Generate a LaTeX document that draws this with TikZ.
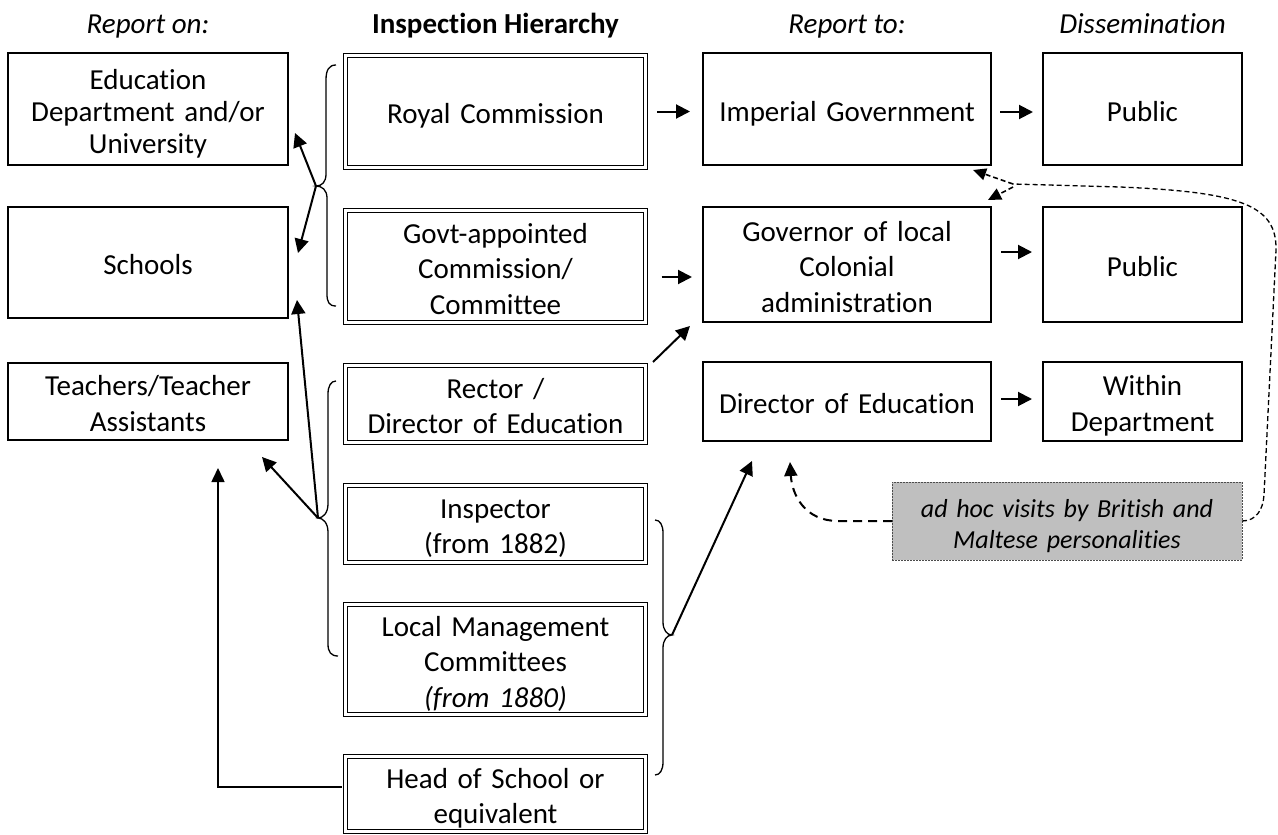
\documentclass[tikz,border=0pt]{standalone}
\usepackage{fontspec}
\setmainfont{Carlito}[Ligatures=CommonOff]
\usetikzlibrary{arrows.meta,calc}
\definecolor{boxgray}{RGB}{191,191,191}
\newcommand{\topstrut}{\rule{0pt}{30pt}}
\newcommand{\botstrut}{\rule[-6pt]{0pt}{6pt}}
\begin{document}
\begin{tikzpicture}[x=1pt,y=-1pt,
  every node/.style={font=\fontsize{29pt}{35.5pt}\selectfont, inner sep=0pt, outer sep=0pt},
  strutted/.style={execute at begin node=\topstrut, execute at end node=\botstrut},
  sbox/.style={draw, line width=2pt, align=center, strutted},
  dbox/.style={draw, line width=1.4pt, double, double distance=2.4pt, align=center, strutted},
  graybox/.style={draw=black!70, fill=boxgray, line width=0.8pt, dash pattern=on 2pt off 1pt, align=center,
    font=\fontsize{26pt}{31pt}\selectfont\itshape, strutted},
  hdr/.style={anchor=base},
  arr/.style={line width=2pt, -{Triangle[length=14pt,width=14pt]}},
  thinarr/.style={line width=1.6pt, -{Triangle[length=14pt,width=13pt]}},
  bracepath/.style={line width=1.3pt},
  dashsmall/.style={line width=1.3pt, dash pattern=on 5pt off 3pt},
  dasharr/.style={line width=1.6pt, dash pattern=on 5pt off 3pt, -{Triangle[length=13pt,width=12pt]}},
  dashbigarr/.style={line width=2pt, dash pattern=on 9pt off 6pt, -{Triangle[length=14pt,width=13pt]}}
]
\useasboundingbox (0,0) rectangle (1278,835);

% headers
\node[hdr, font=\fontsize{29pt}{35.5pt}\selectfont\itshape] (h1) at (148,34) {Report on:};
\node[hdr, font=\fontsize{29pt}{35.5pt}\selectfont\bfseries] (h2) at (495.5,34) {Inspection Hierarchy};
\node[hdr, font=\fontsize{29pt}{35.5pt}\selectfont\itshape] (h3) at (847,34) {Report to:};
\node[hdr, font=\fontsize{29pt}{35.5pt}\selectfont\itshape] (h4) at (1142.5,34) {Dissemination};

% column 1
\node[sbox, text width=280pt, minimum height=112pt, font=\fontsize{29pt}{32pt}\selectfont] (edu) at (148,109) {Education\\Department and/or\\University};
\node[sbox, text width=280pt, minimum height=111pt] (schools) at (148,262.5) {Schools};
\node[sbox, text width=280pt, minimum height=77pt] (teachers) at (148,401.5) {Teachers/Teacher\\Assistants};

% column 2
\node[dbox, text width=300pt, minimum height=112pt] (royal) at (495.5,111.5) {Royal Commission};
\node[dbox, text width=300pt, minimum height=112pt] (govt) at (495.5,266.5) {Govt-appointed\\Commission/\\Committee};
\node[dbox, text width=300pt, minimum height=77pt] (rector) at (495.5,404) {Rector /\\Director of Education};
\node[dbox, text width=300pt, minimum height=77pt] (inspector) at (495.5,524) {Inspector\\(from 1882)};
\node[dbox, text width=300pt, minimum height=110pt] (local) at (495.5,659.5) {Local Management\\Committees\\\textit{(from 1880)}};
\node[dbox, text width=300pt, minimum height=75pt] (head) at (495.5,794) {Head of School or\\equivalent};

% column 3
\node[sbox, text width=288pt, minimum height=112pt] (imperial) at (847,109) {Imperial Government};
\node[sbox, text width=288pt, minimum height=115pt] (governor) at (847,264.5) {Governor of local\\Colonial\\administration};
\node[sbox, text width=288pt, minimum height=79pt] (director) at (847,401.5) {Director of Education};

% column 4
\node[sbox, text width=199pt, minimum height=112pt] (public1) at (1142.5,109) {Public};
\node[sbox, text width=199pt, minimum height=115pt] (public2) at (1142.5,264.5) {Public};
\node[sbox, text width=199pt, minimum height=79pt] (within) at (1142.5,401.5) {Within\\Department};

% gray box
\node[graybox, text width=350pt, minimum height=78pt] (adhoc) at (1067,521) {ad hoc visits by British and\\Maltese personalities};

% braces
\coordinate (b1) at (316,186);
\coordinate (b2) at (318,518);
\coordinate (b3) at (672,635);
\draw[bracepath] (336,65) .. controls (329,65) and (326,70) .. (326,80) -- (326,174)
  .. controls (326,182) and (322,186) .. (b1) .. controls (322,186) and (327,190) .. (327,198)
  -- (327,294) .. controls (327,302) and (329,306) .. (336,306);
\draw[bracepath] (336,381) .. controls (331,381) and (328,386) .. (328,394) -- (328,504)
  .. controls (328,513) and (323,518) .. (b2) .. controls (323,518) and (328,523) .. (328,532)
  -- (328,644) .. controls (328,652) and (331,656) .. (338,656);
\draw[bracepath] (655,520) .. controls (660,520) and (663,525) .. (663,533) -- (663,622)
  .. controls (663,630) and (667,635) .. (b3) .. controls (667,635) and (663,640) .. (663,648)
  -- (663,762) .. controls (663,770) and (660,775) .. (655,775);

% brace arrows
\draw[arr] (b1) -- ($(edu.east)+(7,24)$);
\draw[arr] (b1) -- ($(schools.east)+(10,-9.5)$);
\draw[arr] (b2) -- ($(schools.east)+(9,37.5)$);
\draw[arr] (b2) -- ($(teachers.south east)+(-26,17)$);
\draw[arr] (b3) -- ($(director.south west)+(49,20)$);
\draw[thinarr] ($(head.west)+(-4,-7)$) -| ($(teachers.south)+(70,28)$);

% horizontal arrows
\draw[arr, shorten <=11.5pt, shorten >=13pt] (royal.east) -- (royal.east -| imperial.west);
\draw[arr, shorten <=9pt, shorten >=10pt] ($(imperial.east)+(0,3)$) -- ($(imperial.east -| public1.west)+(0,3)$);
\draw[arr, shorten <=16pt, shorten >=11pt] ($(govt.east)+(0,10.5)$) -- ($(govt.east -| governor.west)+(0,10.5)$);
\draw[arr, shorten <=10pt, shorten >=11pt] ($(governor.east)+(0,-12.5)$) -- ($(governor.east -| public2.west)+(0,-12.5)$);
\draw[arr, shorten <=10pt, shorten >=11pt] ($(director.east)+(0,-2.5)$) -- ($(director.east -| within.west)+(0,-2.5)$);
\draw[arr] ($(rector.north east)+(7.5,-3.5)$) -- ($(governor.south west)+(-13,4)$);

% dashed connectors
\draw[dashbigarr] (adhoc.west) -- (838,521) .. controls (805,521) and (792,495) .. ($(director.south west)+(87,21)$);
\coordinate (j) at (1013,184);
\draw[dashsmall] (adhoc.east) .. controls (1256,521) and (1263,510) .. (1264,495) -- (1276,250)
  .. controls (1277,205) and (1240,192) .. (1120,187) -- (j);
\draw[dasharr] (j) -- ($(imperial.south east)+(-18,5)$);
\draw[dasharr] ($(j)+(0,3)$) -- ($(governor.north east)+(-3,-7)$);
\end{tikzpicture}
\end{document}
